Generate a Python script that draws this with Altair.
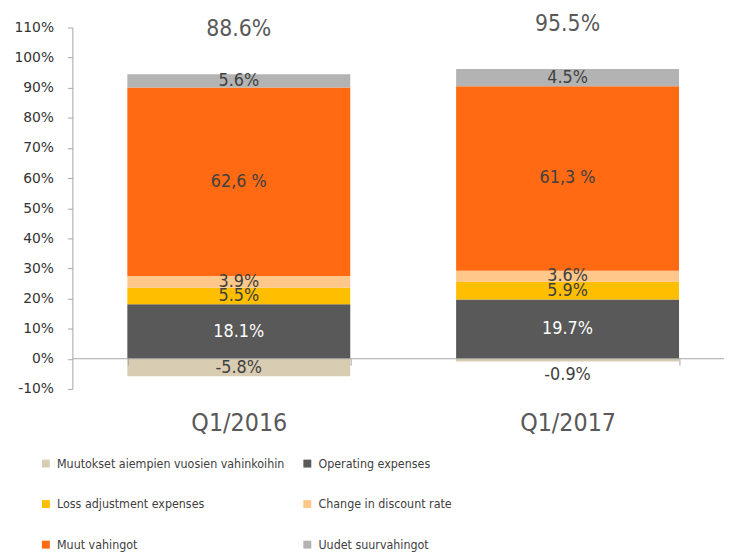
import altair as alt
import pandas as pd

categories = ["Q1/2016", "Q1/2017"]
series = [
    "Muutokset aiempien vuosien vahinkoihin",
    "Operating expenses",
    "Loss adjustment expenses",
    "Change in discount rate",
    "Muut vahingot",
    "Uudet suurvahingot",
]
colors = ["#D8CDB3", "#595959", "#FFBF00", "#FFC78A", "#FF6A13", "#B3B3B3"]
values_2016 = [-5.8, 18.1, 5.5, 3.9, 62.6, 4.4]
values_2017 = [-0.9, 19.7, 5.9, 3.6, 61.3, 5.7]
labels_2016 = ["-5.8%", "18.1%", "5.5%", "3.9%", "62,6 %", "5.6%"]
labels_2017 = ["-0.9%", "19.7%", "5.9%", "3.6%", "61,3 %", "4.5%"]
totals = ["88.6%", "95.5%"]
y_ticks = [-10, 0, 10, 20, 30, 40, 50, 60, 70, 80, 90, 100, 110]

NARROW = "Liberation Sans Narrow, DejaVu Sans Condensed, sans-serif"

rows = []
for cat, vals, labs in [(categories[0], values_2016, labels_2016), (categories[1], values_2017, labels_2017)]:
    for i, (s, v, l) in enumerate(zip(series, vals, labs)):
        rows.append({"cat": cat, "series": s, "idx": i, "value": v, "label": l})
df = pd.DataFrame(rows)

tot_rows = []
for cat, vals, t in zip(categories, [values_2016, values_2017], totals):
    top = sum(v for v in vals if v > 0)
    tot_rows.append({"cat": cat, "total": t, "top": top})
tdf = pd.DataFrame(tot_rows)

# legend fills column by column: reorder so it reads row by row like the reference
legend_order = [series[0], series[2], series[4], series[1], series[3], series[5]]
legend_colors = [colors[series.index(s)] for s in legend_order]

x_scale = alt.Scale(paddingInner=0.322, paddingOuter=0.152, align=0.55)
y_scale = alt.Scale(domain=[-10, 110], nice=False, zero=False)

x_axis = alt.Axis(
    title=None, labelAngle=0, orient="bottom", offset=-31, tickBand="extent",
    domainColor="#a6a6a6", tickColor="#a6a6a6", tickSize=7, labelPadding=46,
    labelFontSize=25, labelFont=NARROW, labelColor="#595959", zindex=1,
    labelFontWeight="normal",
)
y_axis = alt.Axis(
    title=None, grid=False, values=y_ticks,
    labelExpr="datum.value + '%'", labelFont="DejaVu Sans", labelFontSize=14,
    labelColor="#333333", domainColor="#a6a6a6", tickColor="#a6a6a6",
    tickSize=5, labelPadding=14, labelOverlap=False,
)

base = alt.Chart(df).transform_stack(
    stack="value", groupby=["cat"], sort=[alt.SortField("idx")], as_=["v0", "v1"]
)

bars = base.mark_bar().encode(
    x=alt.X("cat:N", sort=categories, scale=x_scale, axis=x_axis),
    y=alt.Y("v0:Q", scale=y_scale, axis=y_axis),
    y2="v1:Q",
    color=alt.Color(
        "series:N",
        scale=alt.Scale(domain=legend_order, range=legend_colors),
        legend=alt.Legend(
            title=None, orient="none", legendX=-33, legendY=434, columns=2,
            symbolType="square", symbolSize=64, symbolStrokeWidth=0,
            labelFont=NARROW, labelFontSize=12.5, labelColor="#404040",
            rowPadding=28, columnPadding=16, labelLimit=400, labelOffset=5,
        ),
    ),
    order=alt.Order("idx:Q"),
)

texts = base.transform_calculate(
    ly="(datum.value < 0 && datum.value > -2) ? min(datum.v0, datum.v1) - 4.4 : (datum.v0 + datum.v1) / 2"
).mark_text(font=NARROW, fontSize=18, baseline="middle").encode(
    x=alt.X("cat:N", sort=categories, scale=x_scale, axis=x_axis),
    y=alt.Y("ly:Q", scale=y_scale, axis=y_axis),
    text="label:N",
    color=alt.condition(
        "datum.series == 'Operating expenses'", alt.value("#ffffff"), alt.value("#404040")
    ),
)

tot = alt.Chart(tdf).transform_calculate(pos="datum.top + 15").mark_text(
    font=NARROW, fontSize=23, baseline="middle", color="#595959"
).encode(
    x=alt.X("cat:N", sort=categories, scale=x_scale, axis=x_axis),
    y=alt.Y("pos:Q", scale=y_scale, axis=y_axis),
    text="total:N",
)

chart = alt.layer(bars, texts, tot).properties(
    width=658,
    height=365,
    padding={"left": 65, "top": 17, "right": 0, "bottom": 163},
    autosize=alt.AutoSizeParams(type="none"),
).configure_view(stroke=None).configure_axis(labelOverlap=False)

chart.save("out.html", embed_options={"renderer": "svg", "actions": False})
